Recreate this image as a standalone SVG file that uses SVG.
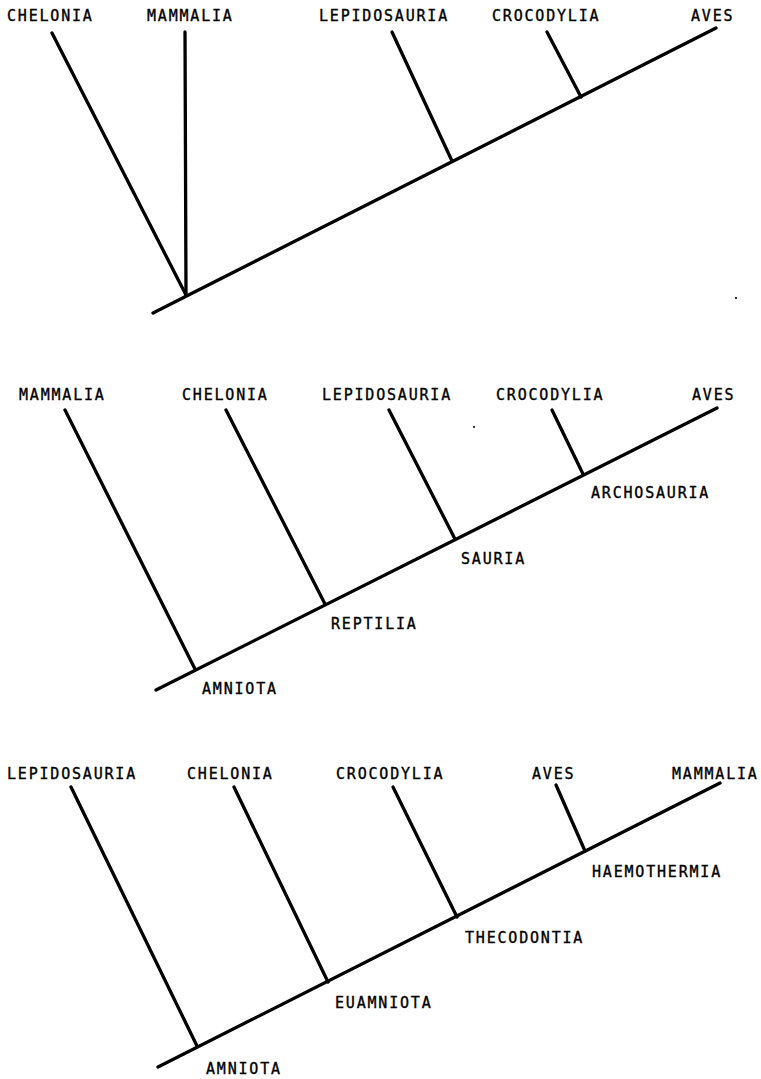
<svg xmlns="http://www.w3.org/2000/svg" width="761" height="1079" viewBox="0 0 761 1079">
<style>
.t{font-family:"DejaVu Sans Mono","Liberation Mono",monospace;font-size:15px;letter-spacing:1.8px;fill:#000;stroke:#000;stroke-width:0.35}
.l{stroke:#000;stroke-width:3.3;stroke-linecap:round;fill:none}
</style>
<rect width="761" height="1079" fill="#fff"/>
<g id="connectors">
<line class="l" x1="153" y1="313" x2="716" y2="28"/>
<line class="l" x1="52" y1="33" x2="186" y2="295"/>
<line class="l" x1="185" y1="32" x2="186" y2="295"/>
<line class="l" x1="392" y1="32" x2="452" y2="161"/>
<line class="l" x1="547" y1="32" x2="581" y2="97"/>
<line class="l" x1="156" y1="690" x2="717" y2="408"/>
<line class="l" x1="65" y1="410" x2="195" y2="669"/>
<line class="l" x1="226" y1="410" x2="325" y2="604"/>
<line class="l" x1="389" y1="410" x2="455" y2="539"/>
<line class="l" x1="552" y1="410" x2="583" y2="474"/>
<line class="l" x1="158" y1="1067" x2="720" y2="783"/>
<line class="l" x1="71" y1="787" x2="197" y2="1046"/>
<line class="l" x1="234" y1="787" x2="328" y2="982"/>
<line class="l" x1="393" y1="787" x2="457" y2="917"/>
<line class="l" x1="556" y1="785" x2="585" y2="851"/>
</g>
<g id="tree1">
<text id="t1-chelonia" class="t" x="7" y="21">CHELONIA</text>
<text id="t1-mammalia" class="t" x="147" y="21">MAMMALIA</text>
<text id="t1-lepidosauria" class="t" x="319" y="21">LEPIDOSAURIA</text>
<text id="t1-crocodylia" class="t" x="492" y="21">CROCODYLIA</text>
<text id="t1-aves" class="t" x="691" y="21">AVES</text>
</g>
<g id="tree2">
<text id="t2-mammalia" class="t" x="19" y="400">MAMMALIA</text>
<text id="t2-chelonia" class="t" x="182" y="400">CHELONIA</text>
<text id="t2-lepidosauria" class="t" x="322" y="400">LEPIDOSAURIA</text>
<text id="t2-crocodylia" class="t" x="496" y="400">CROCODYLIA</text>
<text id="t2-aves" class="t" x="692" y="400">AVES</text>
<text id="t2-archosauria" class="t" x="591" y="498">ARCHOSAURIA</text>
<text id="t2-sauria" class="t" x="461" y="564">SAURIA</text>
<text id="t2-reptilia" class="t" x="331" y="629">REPTILIA</text>
<text id="t2-amniota" class="t" x="202" y="694">AMNIOTA</text>
</g>
<g id="tree3">
<text id="t3-lepidosauria" class="t" x="7" y="779">LEPIDOSAURIA</text>
<text id="t3-chelonia" class="t" x="187" y="779">CHELONIA</text>
<text id="t3-crocodylia" class="t" x="336" y="779">CROCODYLIA</text>
<text id="t3-aves" class="t" x="532" y="779">AVES</text>
<text id="t3-mammalia" class="t" x="672" y="779">MAMMALIA</text>
<text id="t3-haemothermia" class="t" x="592" y="877">HAEMOTHERMIA</text>
<text id="t3-thecodontia" class="t" x="465" y="943">THECODONTIA</text>
<text id="t3-euamniota" class="t" x="335" y="1008">EUAMNIOTA</text>
<text id="t3-amniota" class="t" x="206" y="1074">AMNIOTA</text>
</g>
<g id="specks">
<circle cx="736" cy="298" r="1.1" fill="#000"/>
<circle cx="474" cy="427" r="1" fill="#000"/>
</g>
</svg>
